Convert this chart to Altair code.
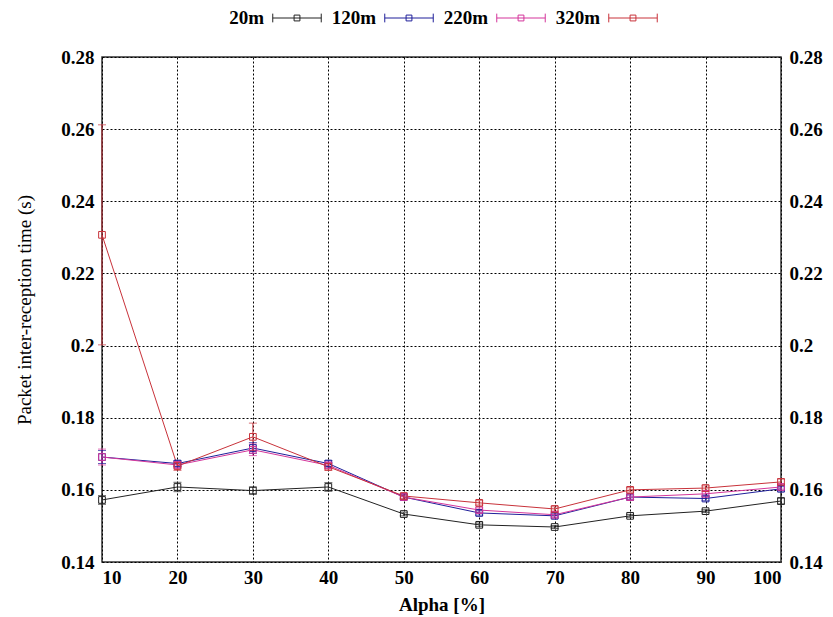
import altair as alt
import pandas as pd

alpha = [10, 20, 30, 40, 50, 60, 70, 80, 90, 100]
series = ["20m", "120m", "220m", "320m"]
colors = ["#222222", "#1f1f9a", "#d4359b", "#c8323a"]

mean_20 = [0.1572, 0.1608, 0.1598, 0.1608, 0.1533, 0.1503, 0.1497, 0.1528, 0.1541, 0.1569]
err_20 = [0.0012, 0.0013, 0.0010, 0.0012, 0.0005, 0.0005, 0.0004, 0.0004, 0.0004, 0.0008]
mean_120 = [0.1691, 0.1673, 0.1716, 0.1673, 0.1580, 0.1536, 0.1528, 0.1580, 0.1576, 0.1603]
err_120 = [0.0018, 0.0008, 0.0015, 0.0008, 0.0006, 0.0006, 0.0006, 0.0006, 0.0006, 0.0006]
mean_220 = [0.1691, 0.1669, 0.1711, 0.1668, 0.1580, 0.1544, 0.1531, 0.1580, 0.1589, 0.1608]
err_220 = [0.0022, 0.0008, 0.0016, 0.0008, 0.0006, 0.0006, 0.0006, 0.0006, 0.0006, 0.0006]
mean_320 = [0.2307, 0.1666, 0.1747, 0.1664, 0.1583, 0.1564, 0.1547, 0.1600, 0.1605, 0.1622]
err_320 = [0.0305, 0.0012, 0.0038, 0.0010, 0.0006, 0.0006, 0.0006, 0.0006, 0.0006, 0.0008]

y_ticks = [0.14, 0.16, 0.18, 0.20, 0.22, 0.24, 0.26, 0.28]

rows = []
for s, means, errs in zip(series, [mean_20, mean_120, mean_220, mean_320],
                          [err_20, err_120, err_220, err_320]):
    for a, m, e in zip(alpha, means, errs):
        rows.append({"alpha": a, "series": s, "mean": m, "lo": m - e, "hi": m + e})
df = pd.DataFrame(rows)

FONT = "Liberation Serif"

# legend sample: error-bar line with end caps and an open square (open sub-paths only)
legend_path = ("M-1,0H1M-1,-0.18V0.18M1,-0.18V0.18"
               "M-0.12,-0.12H0.12M0.12,-0.12V0.12M0.12,0.12H-0.12M-0.12,0.12V-0.12")

color = alt.Color(
    "series:N",
    scale=alt.Scale(domain=series, range=colors),
    legend=alt.Legend(
        title=None, orient="none", direction="horizontal",
        legendX=170, legendY=-64,
        symbolType=legend_path, symbolSize=2350, symbolStrokeWidth=1,
        symbolFillColor="white", symbolOpacity=1,
        labelAlign="right", labelOffset={"expr": "-58"},
        labelFont=FONT, labelFontSize=19, labelFontWeight="bold",
        labelColor="black", columnPadding=7,
    ),
)

x = alt.X("alpha:Q", scale=alt.Scale(domain=[10, 100], nice=False),
          axis=alt.Axis(values=alpha, title="Alpha [%]", grid=True))
y_scale = alt.Scale(domain=[0.14, 0.28], nice=False, zero=False)
y_left = alt.Y("mean:Q", scale=y_scale,
               axis=alt.Axis(values=y_ticks, format=".2~f",
                             title="Packet inter-reception time (s)", grid=True))

base = alt.Chart(df)

lines = base.mark_line(strokeWidth=1).encode(
    x=x, y=y_left, color=color, order="alpha:Q", detail="series:N")
rules = base.mark_rule(strokeWidth=1).encode(
    x="alpha:Q", y=alt.Y("lo:Q", scale=y_scale, axis=None), y2="hi:Q", color=color)
ticks_lo = base.mark_tick(orient="horizontal", size=8, thickness=1).encode(
    x="alpha:Q", y=alt.Y("lo:Q", scale=y_scale, axis=None), color=color)
ticks_hi = base.mark_tick(orient="horizontal", size=8, thickness=1).encode(
    x="alpha:Q", y=alt.Y("hi:Q", scale=y_scale, axis=None), color=color)
points = base.mark_point(shape="square", filled=False, size=45, strokeWidth=1,
                         opacity=1).encode(
    x="alpha:Q", y=alt.Y("mean:Q", scale=y_scale, axis=None), color=color)

right_axis = base.mark_point(opacity=0).encode(
    x="alpha:Q",
    y=alt.Y("mean:Q", scale=y_scale,
            axis=alt.Axis(values=y_ticks, format=".2~f", orient="right",
                          title=None, grid=False)),
)

chart = alt.layer(lines, rules, ticks_lo, ticks_hi, points, right_axis).resolve_axis(
    y="independent"
).properties(
    width=679, height=505,
    autosize=alt.AutoSizeParams(type="none"),
    padding={"left": 94, "top": 49, "right": 44, "bottom": 55},
).configure_view(
    stroke="#333333", strokeWidth=1.5
).configure_axis(
    labelFont=FONT, labelFontSize=19, labelFontWeight="bold", labelColor="black",
    titleFont=FONT, titleFontSize=19, titleColor="black",
    gridColor="black", gridDash=[2, 2], gridWidth=1, gridOpacity=1,
    domain=False, ticks=False, labelPadding=6,
).configure_axisX(
    titleFontWeight="bold", titlePadding=8, labelPadding=6
).configure_axisY(
    titleFontWeight="normal", titleFontSize=19, titlePadding=26, labelPadding=8
)

chart.save("out.html", embed_options={"renderer": "svg", "actions": False})
